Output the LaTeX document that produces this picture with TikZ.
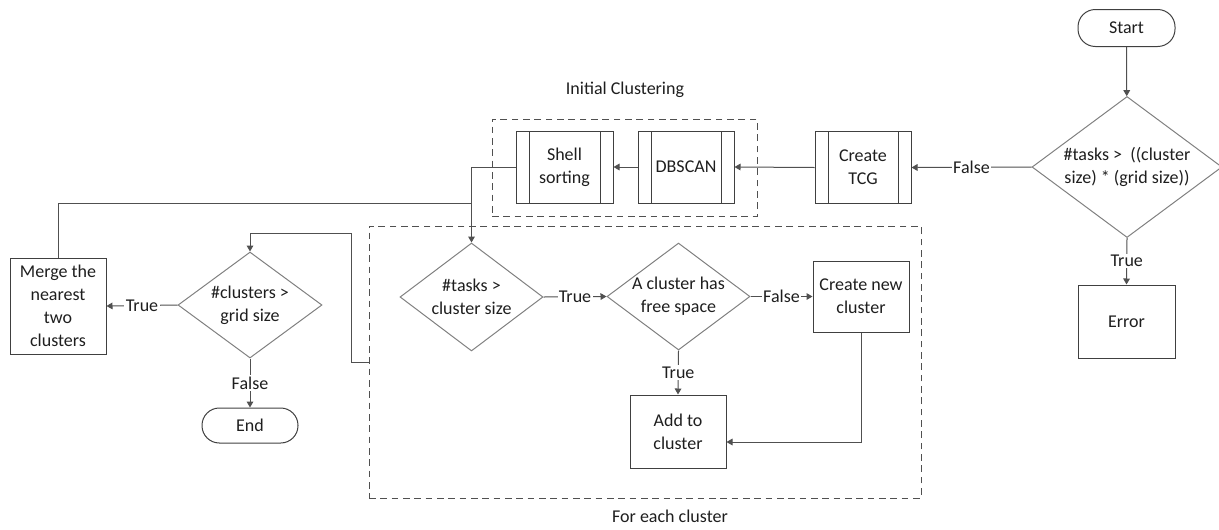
\documentclass[tikz,border=0pt]{standalone}
\usepackage{fontspec}
\setmainfont{Carlito}
\usetikzlibrary{shapes.geometric,arrows.meta,calc}
\definecolor{linec}{HTML}{505050}
\definecolor{boxc}{HTML}{404040}
\definecolor{diac}{HTML}{808080}
\definecolor{txtc}{HTML}{1E1E1E}
\begin{document}
\begin{tikzpicture}[x=0.75pt,y=-0.75pt,
  every node/.style={font=\fontsize{13.5}{17.25}\selectfont, text=txtc, align=center},
  box/.style={draw=boxc, line width=0.75pt, rectangle, inner sep=0pt},
  term/.style={box, rounded corners=13pt},
  proc/.style={box, path picture={
     \draw[boxc, line width=0.75pt] ([xshift=9.75pt]path picture bounding box.north west) -- ([xshift=9.75pt]path picture bounding box.south west);
     \draw[boxc, line width=0.75pt] ([xshift=-9.75pt]path picture bounding box.north east) -- ([xshift=-9.75pt]path picture bounding box.south east);}},
  dia/.style={draw=diac, line width=0.75pt, diamond, inner sep=0pt},
  dashbox/.style={draw=linec, line width=0.75pt, dash pattern=on 5pt off 3.5pt, rectangle, inner sep=0pt},
  conn/.style={draw=linec, line width=0.75pt},
  arr/.style={conn, -{Triangle[length=4.5pt,width=5pt]}},
  lbl/.style={fill=white, inner sep=1pt}
]
\useasboundingbox (0,0) rectangle (1219,529);

% dashed groups
\node[dashbox, minimum width=198.75pt, minimum height=72.75pt] (ic) at (624.5,167.5) {};
\node (iclbl) at (625,90) {Initial Clustering};
\node[dashbox, minimum width=414pt, minimum height=204pt] (fe) at (645,362) {};
\node (felbl) at (670,516) {For each cluster};

% nodes
\node[term, minimum width=72.75pt, minimum height=27.75pt] (start) at (1126.5,28) {Start};
\node[dia, minimum width=142.5pt, minimum height=105.75pt,
      label={[align=center]center:\#tasks >\ \ ((cluster\\size) * (grid size))}] (d1) at (1127,167) {};
\node[box, minimum width=72.75pt, minimum height=54.75pt] (err) at (1126.5,321.5) {Error};
\node[proc, minimum width=72pt, minimum height=54pt] (tcg) at (863,167.5) {Create\\TCG};
\node[proc, minimum width=72pt, minimum height=54pt] (dbscan) at (686,167) {DBSCAN};
\node[proc, minimum width=72.75pt, minimum height=54pt] (shell) at (564.5,167) {Shell\\sorting};

\node[dia, minimum width=107.25pt, minimum height=81pt,
      label={[align=center]center:\#tasks >\\cluster size}] (d3) at (471.5,297) {};
\node[dia, minimum width=107.25pt, minimum height=80.25pt,
      label={[align=center]center:A cluster has\\free space}] (d4) at (678.5,296.5) {};
\node[box, minimum width=72pt, minimum height=53.25pt] (cnew) at (861,296.5) {Create new\\cluster};
\node[box, minimum width=72pt, minimum height=54.75pt] (add) at (678,431.5) {Add to\\cluster};

\node[dia, minimum width=108pt, minimum height=79.5pt,
      label={[align=center]center:\#clusters >\\grid size}] (d2) at (250,305) {};
\node[box, minimum width=72pt, minimum height=72pt] (merge) at (58,306) {Merge the\\nearest\\two\\clusters};
\node[term, minimum width=72pt, minimum height=26.25pt] (end) at (250,425.5) {End};

\coordinate (j) at (471,203);

% connectors
\draw[arr] (start) -- (d1);
\draw[arr] (d1.south) -- node[lbl]{True} (err.north);
\draw[arr] (d1.west) -- node[lbl]{False} (tcg.east);
\draw[arr] (tcg.west) -- (dbscan.east);
\draw[arr] (dbscan.west) -- (shell.east);
\draw[arr] (shell.west) -| (d3.north);
\draw[conn] (merge.north) |- (j);
\draw[arr] (d3.east) -- node[lbl]{True} (d4.west);
\draw[arr] (d4.east) -- node[lbl]{False} (cnew.west);
\draw[arr] (d4.south) -- node[lbl]{True} (add.north);
\draw[arr] (cnew.south) |- ([yshift=-7.875pt]add.east);
\draw[arr] (fe.west) -- ++(-17,0) |- ($(d2.north)+(0,-18)$) -- (d2.north);
\draw[arr] (d2.west) -- node[lbl]{True} (merge.east);
\draw[arr] (d2.south) -- node[lbl]{False} (end.north);
\end{tikzpicture}
\end{document}
